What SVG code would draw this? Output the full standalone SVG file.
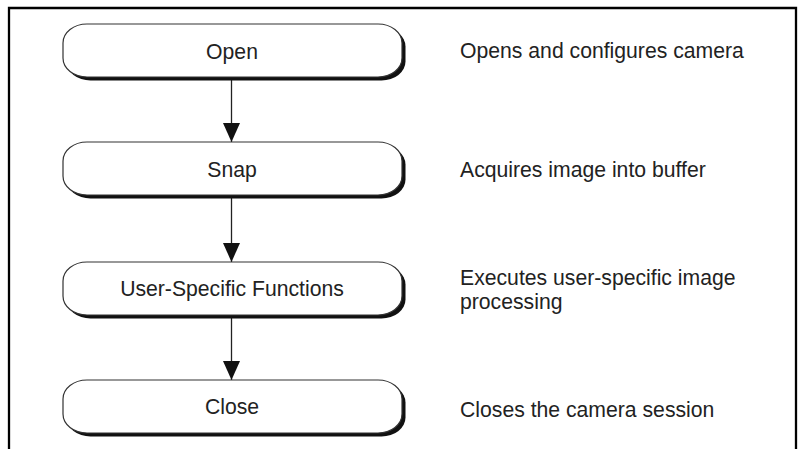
<svg xmlns="http://www.w3.org/2000/svg" width="799" height="449" viewBox="0 0 799 449">
<defs>
<style>
.shadow{fill:#111;}
.box{fill:#fff;stroke:#333;stroke-width:1.2;}
.lbl{font-family:"Liberation Sans",Arial,sans-serif;font-size:21.2px;fill:#222;text-anchor:middle;}
.desc{font-family:"Liberation Sans",Arial,sans-serif;font-size:21.2px;fill:#222;}
.conn{stroke:#222;stroke-width:1.3;fill:none;}
</style>
<marker id="ah" markerUnits="userSpaceOnUse" markerWidth="19" markerHeight="17" refX="19" refY="8.5" orient="auto" viewBox="0 0 19 17">
<path d="M0,0 L19,8.5 L0,17 Z" fill="#111"/>
</marker>
</defs>
<rect width="799" height="449" fill="#fff"/>
<path d="M9,449 V8 H796 V449" fill="none" stroke="#000" stroke-width="2.3"/>
<g id="connectors">
<line class="conn" x1="231.5" y1="78" x2="231.5" y2="142" marker-end="url(#ah)"/>
<line class="conn" x1="231.5" y1="196" x2="231.5" y2="262" marker-end="url(#ah)"/>
<line class="conn" x1="231.5" y1="315" x2="231.5" y2="380" marker-end="url(#ah)"/>
</g>
<g id="open">
<rect class="shadow" x="66.5" y="27.5" width="339" height="53" rx="24" ry="19"/>
<rect class="box" x="63" y="24" width="339" height="53" rx="24" ry="19"/>
<text class="lbl" x="232" y="59">Open</text>
</g>
<g id="snap">
<rect class="shadow" x="66.5" y="145.5" width="339" height="53" rx="24" ry="19"/>
<rect class="box" x="63" y="142" width="339" height="53" rx="24" ry="19"/>
<text class="lbl" x="232" y="177">Snap</text>
</g>
<g id="user">
<rect class="shadow" x="66.5" y="265.5" width="339" height="53" rx="24" ry="19"/>
<rect class="box" x="63" y="262" width="339" height="53" rx="24" ry="19"/>
<text class="lbl" x="232" y="296">User-Specific Functions</text>
</g>
<g id="close">
<rect class="shadow" x="66.5" y="383.5" width="339" height="53" rx="24" ry="19"/>
<rect class="box" x="63" y="380" width="339" height="53" rx="24" ry="19"/>
<text class="lbl" x="232" y="414">Close</text>
</g>
<g id="descriptions">
<text class="desc" x="460" y="58">Opens and configures camera</text>
<text class="desc" x="460" y="177">Acquires image into buffer</text>
<text class="desc" x="460" y="285">Executes user-specific image</text>
<text class="desc" x="460" y="309">processing</text>
<text class="desc" x="460" y="417">Closes the camera session</text>
</g>
</svg>
